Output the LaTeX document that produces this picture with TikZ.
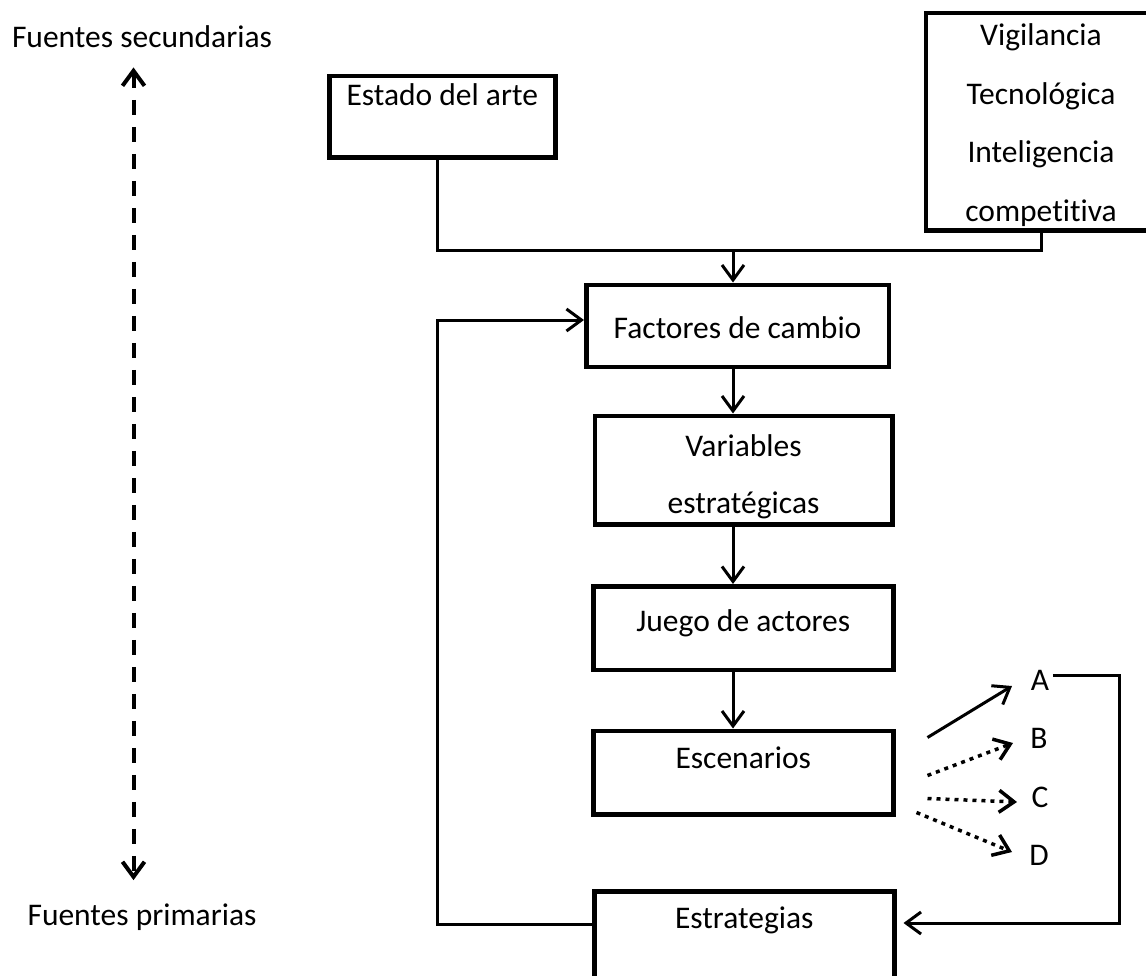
\documentclass[tikz,border=0pt]{standalone}
\usepackage{fontspec}
\setmainfont{Carlito}[Ligatures=NoCommon]
\usetikzlibrary{arrows.meta}

\newcommand{\boxlines}[1]{\begin{tabular}[t]{@{}c@{}}#1\end{tabular}}

\begin{document}
\begin{tikzpicture}[x=1pt, y=-1pt,
  every node/.style={font=\fontsize{31.5}{37.8}\selectfont, inner sep=0pt},
  stage/.style={rectangle, draw, line width=4.5pt, anchor=north west},
  link/.style={line width=3pt},
  arr/.style={link, -{Straight Barb[length=15pt, width=22pt]}},
  dotarr/.style={arr, line width=3.5pt, dash pattern=on 4pt off 5pt},
  dasharr/.style={line width=4pt, dash pattern=on 15pt off 12pt,
    {Straight Barb[length=15pt, width=22pt]}-{Straight Barb[length=15pt, width=22pt]}}]
\useasboundingbox (0,0) rectangle (1146,975);

% Sources axis
\node[anchor=base] (sec) at (142,47) {Fuentes secundarias};
\node[anchor=base] (pri) at (142,925) {Fuentes primarias};
\draw[dasharr, shorten <=20pt, shorten >=23pt] ([shift={(-8.5,0)}]sec.south) -- ([shift={(-8.5,0)}]pri.north);

% Input boxes
\node[stage, minimum width=226pt, text height=29.5pt, text depth=52pt] (estado) at (327,73.5) {Estado del arte};
\node[stage, minimum width=230.5pt, text height=32.5pt, text depth=185pt] (vig) at (923.5,10.5)
  {\boxlines{Vigilancia\\[21pt] Tecnológica\\[21pt] Inteligencia\\[21pt] competitiva}};

% Main chain
\node[stage, minimum width=302.5pt, text height=53.8pt, text depth=28.2pt] (fact) at (584,282.5) {Factores de cambio};
\node[stage, minimum width=297.5pt, text height=41.2pt, text depth=67.3pt] (var) at (592.5,413.5)
  {\boxlines{Variables\\[18.5pt] estratégicas}};
\node[stage, minimum width=300pt, text height=45.7pt, text depth=37.8pt] (juego) at (591,584) {Juego de actores};
\node[stage, minimum width=300pt, text height=37.5pt, text depth=46pt] (esc) at (591,728.5) {Escenarios};
\node[stage, minimum width=300pt, text height=37pt, text depth=67pt] (estr) at (592,889) {Estrategias};

% Scenario letters
\node (A) at (1040,680) {A};
\node (B) at (1039,738) {B};
\node (C) at (1040,797) {C};
\node (D) at (1039,855) {D};

\coordinate (merge) at (733,250);
\coordinate (back) at (437.5,320);
\coordinate (loop) at (1119,923);

% Connectors
\draw[link] ([shift={(-4.5,0)}]estado.south) |- (merge) -| (vig.south);
\draw[arr] (merge) -- (fact.north -| merge);
\draw[arr] (fact.south -| merge) -- (var.north -| merge);
\draw[arr] (var.south -| merge) -- (juego.north -| merge);
\draw[arr] (juego.south -| merge) -- (esc.north -| merge);
\draw[arr] ([shift={(0,35)}]estr.north west) -| (back) -- (back -| fact.west);

% Scenario branches
\draw[arr] ([shift={(32,-35)}]esc.east) -- ([shift={(-28,6)}]A.center);
\draw[dotarr] ([shift={(32,3)}]esc.east) -- ([shift={(-26,5)}]B.center);
\draw[dotarr] ([shift={(32,26)}]esc.east) -- ([shift={(-23,5)}]C.center);
\draw[dotarr] ([shift={(21,40)}]esc.east) -- ([shift={(-27,-3)}]D.center);
\draw[arr, shorten >=7pt] ([shift={(3.5,-5)}]A.east) -| (loop) -- (loop -| estr.east);
\end{tikzpicture}
\end{document}
